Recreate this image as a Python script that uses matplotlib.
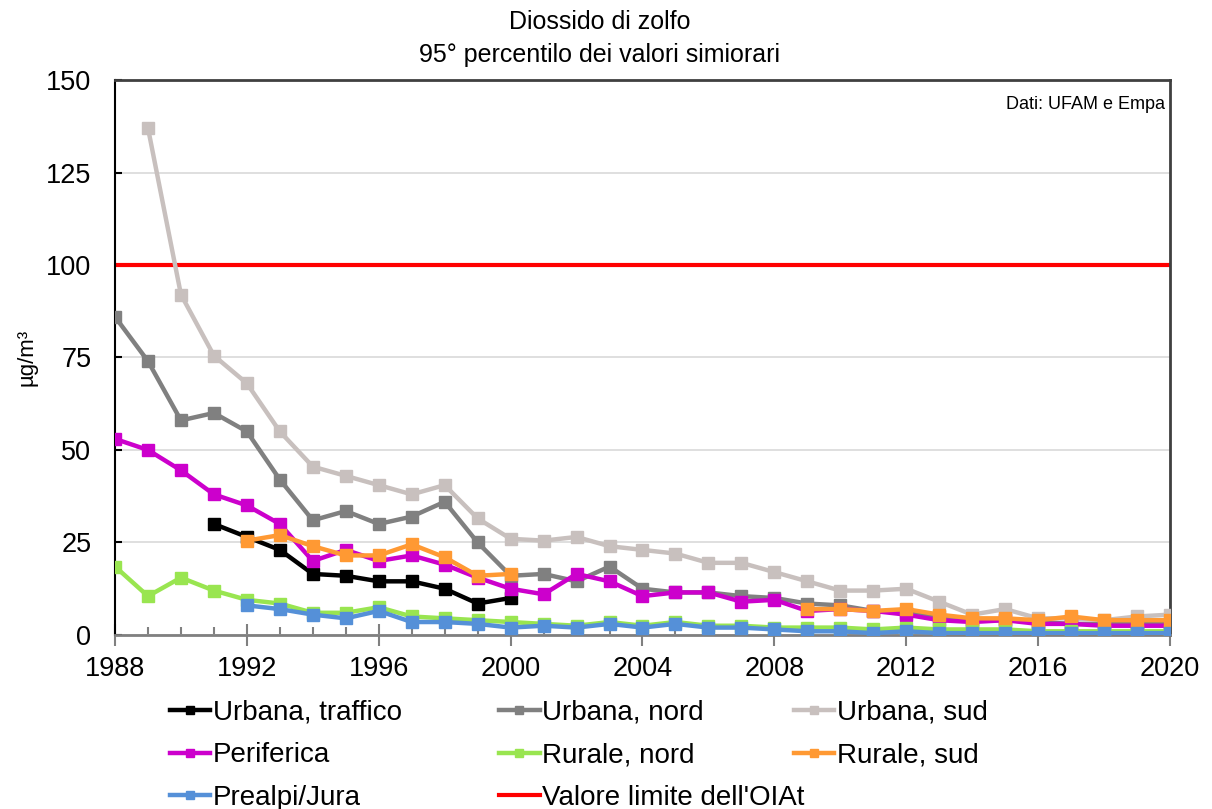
import numpy as np
import matplotlib.pyplot as plt
from matplotlib.ticker import MultipleLocator

plt.rcParams['font.family'] = ['Liberation Sans', 'DejaVu Sans']

years = np.arange(1988, 2021)
nan = np.nan

# valori (µg/m³)
traffico = [nan, nan, nan, 30, 26.5, 23, 16.5, 16, 14.5, 14.5, 12.5, 8.5, 10,
            nan, nan, nan, nan, nan, nan, nan, nan, nan, nan, nan, nan, nan,
            nan, nan, nan, nan, nan, nan, nan]
urbana_nord = [86, 74, 58, 60, 55, 42, 31, 33.5, 30, 32, 36, 25, 16, 16.5, 14.5,
               18.5, 12.5, 11.5, 11.5, 10.5, 10, 8.5, 8, 6.5, 6, 5, 4, 4, 3.5,
               3, 3, 3, 3]
urbana_sud = [nan, 137, 92, 75.5, 68, 55, 45.5, 43, 40.5, 38, 40.5, 31.5, 26,
              25.5, 26.5, 24, 23, 22, 19.5, 19.5, 17, 14.5, 12, 12, 12.5, 9,
              5.5, 7, 4.5, 4.5, 4, 5, 5.5]
periferica = [53, 50, 44.5, 38, 35, 30, 20, 23, 20, 21.5, 19, 15.5, 12.5, 11,
              16.5, 14.5, 10.5, 11.5, 11.5, 9, 9.5, 6.5, 7, 6.5, 5.5, 4, 3.5,
              4, 3, 3, 2.5, 2.5, 2.5]
rurale_nord = [18.5, 10.5, 15.5, 12, 9.5, 8.5, 6, 6, 7.5, 5, 4.5, 4, 3.5, 3,
               2.5, 3.5, 2.5, 3.5, 2.5, 2.5, 2, 2, 2, 1.5, 2, 1.5, 1.5, 1.5, 1,
               1, 1, 1, 1]
rurale_sud = [nan, nan, nan, nan, 25.5, 27, 24, 21.5, 21.5, 24.5, 21, 16, 16.5,
              nan, nan, nan, nan, nan, nan, nan, nan, 7, 7, 6.5, 7, 5.5, 4.5,
              4.5, 4, 5, 4, 4, 4]
prealpi = [nan, nan, nan, nan, 8, 7, 5.5, 4.5, 6.5, 3.5, 3.5, 3, 2, 2.5, 2, 3,
           2, 3, 2, 2, 1.5, 1, 1, 0.5, 1, 0.5, 0.5, 0.5, 0.5, 0.5, 0.5, 0.5,
           0.5]
valore_limite = 100

series = [
    ("Urbana, traffico", traffico, "#000000"),
    ("Urbana, nord", urbana_nord, "#808080"),
    ("Urbana, sud", urbana_sud, "#C8C0BE"),
    ("Periferica", periferica, "#CC00CC"),
    ("Rurale, nord", rurale_nord, "#99E550"),
    ("Rurale, sud", rurale_sud, "#FF9933"),
    ("Prealpi/Jura", prealpi, "#5590D8"),
]

fig = plt.figure(figsize=(12.12, 8.09), dpi=100)
ax = fig.add_axes([0.0949, 0.2151, 0.8704, 0.686])

ax.axhline(valore_limite, color="#FF0000", lw=3, zorder=1)
handles = {}
for name, vals, col in series:
    h, = ax.plot(years, vals, color=col, lw=3.2, marker="s", markersize=8,
                 label=name, zorder=3)
    handles[name] = h
handles["Valore limite dell'OIAt"], = ax.plot([], [], color="#FF0000", lw=3,
                                              label="Valore limite dell'OIAt")

ax.set_xlim(1988, 2020)
ax.set_ylim(0, 150)
ax.xaxis.set_major_locator(MultipleLocator(4))
ax.xaxis.set_minor_locator(MultipleLocator(1))
ax.yaxis.set_major_locator(MultipleLocator(25))
ax.grid(axis="y", color="#D9D9D9", lw=1.2, zorder=0)
ax.set_axisbelow(True)

ax.tick_params(axis="x", which="major", direction="inout", length=16,
               width=1.5, color="#808080", labelsize=19.5, pad=7)
ax.tick_params(axis="x", which="minor", direction="in", length=6, width=1.5,
               color="#808080")
ax.tick_params(axis="y", direction="in", length=5, width=1.5, labelsize=19.5,
               pad=17)
ax.spines["left"].set_color("black")
ax.spines["left"].set_linewidth(1.5)
ax.spines["bottom"].set_color("#808080")
ax.spines["bottom"].set_linewidth(2)
for s in ("top", "right"):
    ax.spines[s].set_color("#404040")
    ax.spines[s].set_linewidth(2)

ax.set_ylabel("µg/m³", fontsize=16, labelpad=6)
ax.text(0.995, 0.955, "Dati: UFAM e Empa", transform=ax.transAxes,
        ha="right", va="center", fontsize=13)

fig.text(0.495, 0.973, "Diossido di zolfo", ha="center", va="center",
         fontsize=18)
fig.text(0.495, 0.932, "95° percentilo dei valori simiorari", ha="center",
         va="center", fontsize=18)

# legenda in tre colonne, righe come nel grafico originale
columns = [
    (["Urbana, traffico", "Periferica", "Prealpi/Jura"], 0.140),
    (["Urbana, nord", "Rurale, nord", "Valore limite dell'OIAt"], 0.412),
    (["Urbana, sud", "Rurale, sud"], 0.655),
]
for names, xpos in columns:
    hl = [handles[n] for n in names]
    leg = fig.legend(handles=hl, labels=names, loc="upper left",
                     bbox_to_anchor=(xpos, 0.135), frameon=False, fontsize=20,
                     handlelength=1.45, handletextpad=0.1, labelspacing=0.6,
                     borderaxespad=0, borderpad=0)
    for h in leg.legend_handles:
        h.set_markersize(6)

fig.savefig("out.png", dpi=100)
